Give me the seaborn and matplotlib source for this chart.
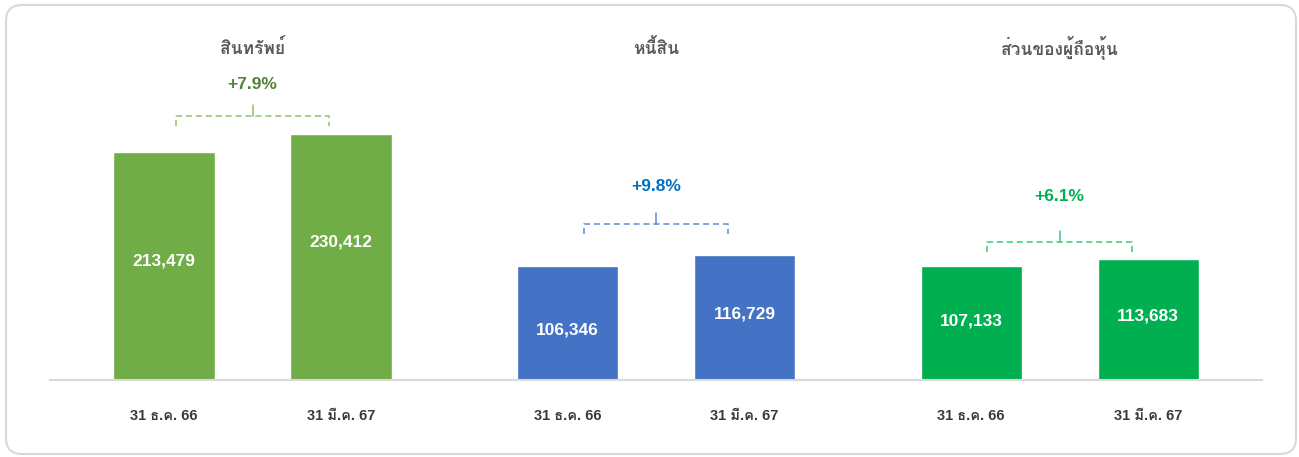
import pandas as pd
import seaborn as sns
import matplotlib.pyplot as plt
from matplotlib.patches import FancyBboxPatch

# ------------------ DATOS ------------------ #

groups = ["สินทรัพย์", "หนี้สิน", "ส่วนของผู้ถือหุ้น"]
dates = ["31 ธ.ค. 66", "31 มี.ค. 67"]
values_dec66 = [213479, 106346, 107133]
values_mar67 = [230412, 116729, 113683]
changes = ["+7.9%", "+9.8%", "+6.1%"]

bar_colors = ["#70AD47", "#4472C4", "#00B050"]
change_colors = ["#548235", "#0070C0", "#00B050"]
bracket_colors = ["#8CC26A", "#5F8AD6", "#3CC877"]

# ------------------ ESTILO ------------------ #

sns.set_style("white")
# Liberation para cifras, Loma para los glifos tailandeses
plt.rcParams["font.family"] = ["Liberation Sans", "Loma", "DejaVu Sans"]

# ------------------ TABLA ------------------ #

group_step = 2.28
rows = []
for g, name in enumerate(groups):
    for d, vals in enumerate([values_dec66, values_mar67]):
        rows.append({"group": name, "date": dates[d], "value": vals[g],
                     "pos": g * group_step + d})
df = pd.DataFrame(rows)

# ------------------ GRAFICO ------------------ #

fig = plt.figure(figsize=(12.99, 4.57), dpi=100)
ax = fig.add_axes([50 / 1299, 77 / 457, 1212 / 1299, 380 / 457])

sns.barplot(data=df, x="pos", y="value", hue="group", native_scale=True,
            palette=bar_colors, width=0.572, dodge=False, legend=False,
            saturation=1, ax=ax)

ymax = 380 * 213479 / 228
ax.set_ylim(0, ymax)
ax.set_xlim(-0.644, 6.203)
px = ymax / 380  # unidades de datos por pixel

for spine in ["top", "left", "right"]:
    ax.spines[spine].set_visible(False)
ax.spines["bottom"].set_color("#D9D9D9")
ax.spines["bottom"].set_linewidth(1.5)
ax.set_yticks([])
ax.set_ylabel("")
ax.set_xlabel("")
ax.set_xticks(df["pos"])
ax.set_xticklabels(list(dates) * 3, fontsize=10.5, fontweight="bold", color="#3A3A3A")
ax.tick_params(axis="x", length=0, pad=21)

# valores dentro de las barras (altura relativa de cada etiqueta)
label_frac = [0.52, 0.56, 0.44, 0.53, 0.52, 0.53]
for i, r in df.iterrows():
    ax.text(r["pos"], r["value"] * label_frac[i], f"{r['value']:,}", ha="center",
            va="center", color="white", fontsize=12.5, fontweight="bold")

# titulos, corchetes y porcentajes
bracket_gap = [18, 31, 17]
bracket_half = [0.43, 0.405, 0.41]
label_gap = [31, 38, 45]
for g, name in enumerate(groups):
    mid = g * group_step + 0.5
    ax.text(mid, 1 - 48 / 380, name, transform=ax.get_xaxis_transform(),
            ha="center", va="center", fontsize=12.5, fontweight="bold", color="#595959",
            family=["Loma", "DejaVu Sans"])
    top = max(values_dec66[g], values_mar67[g])
    yb = top + bracket_gap[g] * px
    x0, x1 = mid - bracket_half[g], mid + bracket_half[g]
    ax.plot([x0, x0, x1, x1], [yb - 10 * px, yb, yb, yb - 10 * px],
            ls=(0, (4, 2.5)), lw=1.1, color=bracket_colors[g])
    ax.plot([mid, mid], [yb, yb + 11 * px], lw=1.1, color=bracket_colors[g])
    ax.text(mid, yb + label_gap[g] * px, changes[g], ha="center", va="center",
            fontsize=12.5, fontweight="bold", color=change_colors[g])

# marco redondeado
frame = FancyBboxPatch((0.06, 0.03), 12.90, 4.49,
                       boxstyle="round,pad=0,rounding_size=0.16",
                       transform=fig.dpi_scale_trans, fill=False,
                       edgecolor="#D9D9D9", linewidth=1.5)
fig.patches.append(frame)

plt.savefig("out.png", dpi=100)
plt.close()
